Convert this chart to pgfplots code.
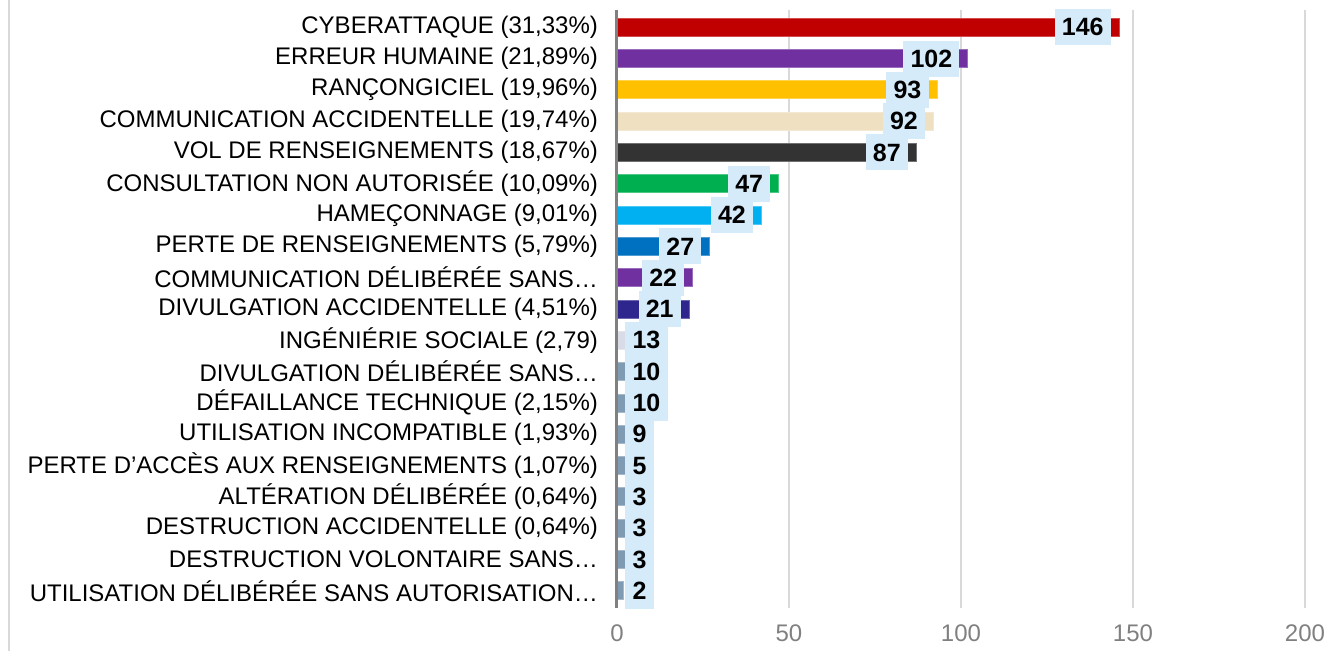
\documentclass[border=0pt]{standalone}
\usepackage{pgfplots}
\pgfplotsset{compat=1.18}
\usepackage{fontspec}
\setmainfont{Liberation Sans}
\definecolor{cRed}{RGB}{192,0,0}
\definecolor{cPurple}{RGB}{112,48,160}
\definecolor{cGold}{RGB}{255,192,0}
\definecolor{cBeige}{RGB}{238,224,192}
\definecolor{cDark}{RGB}{51,51,51}
\definecolor{cGreen}{RGB}{0,176,80}
\definecolor{cCyan}{RGB}{0,176,240}
\definecolor{cBlue}{RGB}{0,112,192}
\definecolor{cNavy}{RGB}{46,38,140}
\definecolor{cPale}{RGB}{217,220,230}
\definecolor{cSlate}{RGB}{127,155,179}
\definecolor{boxBlue}{RGB}{214,235,250}
\definecolor{gridGrey}{RGB}{217,217,217}
\definecolor{tickGrey}{RGB}{128,128,128}
\begin{document}
\begin{tikzpicture}
\useasboundingbox (-308.5pt,-21.5pt) rectangle (359.5pt,304pt);
\draw[gridGrey, line width=0.8pt] (-304pt,-21.5pt) -- (-304pt,304pt);
\begin{axis}[
  at={(0,0)}, anchor=south west,
  scale only axis, width=344pt, height=299pt,
  xmin=0, xmax=200, ymin=-0.55, ymax=18.55,
  y dir=reverse,
  axis line style={draw=none},
  xtick={0,50,100,150,200},
  xmajorgrids, grid style={gridGrey, line width=0.75pt},
  major tick length=0pt,
  ytick={0,...,18},
  yticklabels={{CYBERATTAQUE (31,33\%)},{ERREUR HUMAINE (21,89\%)},{RANÇONGICIEL (19,96\%)},{COMMUNICATION ACCIDENTELLE (19,74\%)},{VOL DE RENSEIGNEMENTS (18,67\%)},{CONSULTATION NON AUTORISÉE (10,09\%)},{HAMEÇONNAGE (9,01\%)},{PERTE DE RENSEIGNEMENTS (5,79\%)},{COMMUNICATION DÉLIBÉRÉE SANS…},{DIVULGATION ACCIDENTELLE (4,51\%)},{INGÉNIÉRIE SOCIALE (2,79)},{DIVULGATION DÉLIBÉRÉE SANS…},{DÉFAILLANCE TECHNIQUE (2,15\%)},{UTILISATION INCOMPATIBLE (1,93\%)},{PERTE D’ACCÈS AUX RENSEIGNEMENTS (1,07\%)},{ALTÉRATION DÉLIBÉRÉE (0,64\%)},{DESTRUCTION ACCIDENTELLE (0,64\%)},{DESTRUCTION VOLONTAIRE SANS…},{UTILISATION DÉLIBÉRÉE SANS AUTORISATION…}},
  yticklabel style={font=\fontsize{12}{14}\selectfont, xshift=-6pt},
  xticklabel style={font=\fontsize{12}{14}\selectfont, text=tickGrey, yshift=-5pt},
  /pgf/number format/assume math mode=true,
  mybar/.style={xbar, bar width=9pt, bar shift=0pt, fill=#1, draw=#1!70!white, line width=0.4pt},
  lbl/.style={draw=none, mark=none, nodes near coords, point meta=explicit symbolic,
    every node near coord/.append style={fill=boxBlue, font=\fontsize{12.5}{14}\selectfont\bfseries, text=black, inner xsep=3.6pt, minimum height=18pt, anchor=#1}},
  clip=false,
]
\addplot[mybar=cRed] coordinates {(146,0)};
\addplot[mybar=cPurple] coordinates {(102,1)};
\addplot[mybar=cGold] coordinates {(93,2)};
\addplot[mybar=cBeige] coordinates {(92,3)};
\addplot[mybar=cDark] coordinates {(87,4)};
\addplot[mybar=cGreen] coordinates {(47,5)};
\addplot[mybar=cCyan] coordinates {(42,6)};
\addplot[mybar=cBlue] coordinates {(27,7)};
\addplot[mybar=cPurple] coordinates {(22,8)};
\addplot[mybar=cNavy] coordinates {(21,9)};
\addplot[mybar=cPale] coordinates {(13,10)};
\addplot[mybar=cSlate] coordinates {(10,11)};
\addplot[mybar=cSlate] coordinates {(10,12)};
\addplot[mybar=cSlate] coordinates {(9,13)};
\addplot[mybar=cSlate] coordinates {(5,14)};
\addplot[mybar=cSlate] coordinates {(3,15)};
\addplot[mybar=cSlate] coordinates {(3,16)};
\addplot[mybar=cSlate] coordinates {(3,17)};
\addplot[mybar=cSlate] coordinates {(2,18)};
% y axis line
\draw[tickGrey, line width=1.5pt] (axis cs:0,-0.55) -- (axis cs:0,18.55);
% labels
\addplot[lbl=east, nodes near coords style={xshift=-4pt}] coordinates {
 (146,0) [146] (102,1) [102] (93,2) [93] (92,3) [92] (87,4) [87]
 (47,5) [47] (42,6) [42] (27,7) [27] (22,8) [22] (21,9) [21]};
\addplot[lbl=west, nodes near coords style={xshift=4pt}] coordinates {
 (0,10) [13] (0,11) [10] (0,12) [10] (0,13) [9] (0,14) [5]
 (0,15) [3] (0,16) [3] (0,17) [3] (0,18) [2]};
\end{axis}
\end{tikzpicture}
\end{document}
